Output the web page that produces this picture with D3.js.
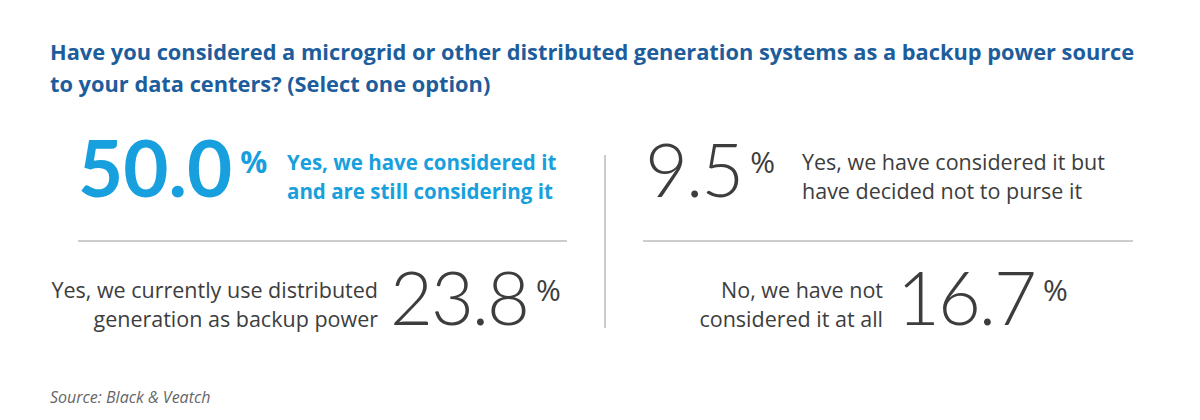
<!DOCTYPE html>
<html><head><meta charset="utf-8">
<script src="https://cdn.jsdelivr.net/npm/d3@7"></script>
<style>body{margin:0;background:#fff}</style>
</head><body>
<svg id="chart" width="1200" height="420"></svg>
<script>
const titleLines = ["Have you considered a microgrid or other distributed generation systems as a backup power source",
  "to your data centers? (Select one option)"];
const values = [50.0, 9.5, 23.8, 16.7];
const labels = [
  ["Yes, we have considered it", "and are still considering it"],
  ["Yes, we have considered it but", "have decided not to purse it"],
  ["Yes, we currently use distributed", "generation as backup power"],
  ["No, we have not", "considered it at all"]
];
const source = "Source: Black & Veatch";

const svg = d3.select("#chart");
const txt = "'Open Sans', sans-serif", numFont = "Lato, sans-serif";
const blue = "#17a0dd", dark = "#3d3d3d", navy = "#1d5d9b";

svg.selectAll("text.title").data(titleLines).enter().append("text")
  .attr("x", 50).attr("y", (d, i) => 60 + i * 32).attr("font-family", txt)
  .attr("fill", navy).attr("font-size", 21.8).attr("font-weight", 700).text(d => d);

const cells = [
  { nx: 78, lx: 287, y: 197, numFirst: true, hi: true },
  { nx: 645, lx: 802, y: 197, numFirst: true, hi: false },
  { nx: 390, lx: 378, y: 325, numFirst: false, hi: false },
  { nx: 897, lx: 883, y: 325, numFirst: false, hi: false }
];

const g = svg.selectAll("g.cell").data(values).enter().append("g");
g.each(function (v, i) {
  const c = cells[i], sel = d3.select(this);
  const col = c.hi ? blue : dark;
  const num = sel.append("text").attr("x", c.nx).attr("y", c.y).attr("font-family", numFont)
    .attr("font-size", c.hi ? 78 : 74).attr("font-weight", c.hi ? 700 : 300).attr("fill", col)
    .attr("letter-spacing", c.hi ? 0 : -2)
    .text(d3.format(".1f")(v));
  const w = num.node().getComputedTextLength();
  sel.append("text").attr("x", c.nx + w + 8).attr("y", c.y - 24).attr("font-family", txt)
    .attr("font-size", 30).attr("font-weight", c.hi ? 700 : 400).attr("fill", col).text("%");
  sel.selectAll("text.lab").data(labels[i]).enter().append("text")
    .attr("x", c.lx).attr("y", (d, j) => c.y - 27 + j * 29).attr("font-family", txt)
    .attr("text-anchor", c.numFirst ? "start" : "end")
    .attr("font-size", c.hi ? 20.5 : 21.5).attr("font-weight", c.hi ? 700 : 400).attr("fill", col).text(d => d);
});

const rule = "#9a9a9a";
svg.append("line").attr("x1", 78).attr("x2", 567).attr("y1", 241).attr("y2", 241).attr("stroke", rule);
svg.append("line").attr("x1", 643).attr("x2", 1133).attr("y1", 241).attr("y2", 241).attr("stroke", rule);
svg.append("line").attr("x1", 605).attr("x2", 605).attr("y1", 155).attr("y2", 328).attr("stroke", rule);

svg.append("text").attr("x", 50).attr("y", 403).attr("font-family", txt).attr("font-size", 16)
  .attr("font-style", "italic").attr("fill", "#666").text(source);
</script>
</body></html>
